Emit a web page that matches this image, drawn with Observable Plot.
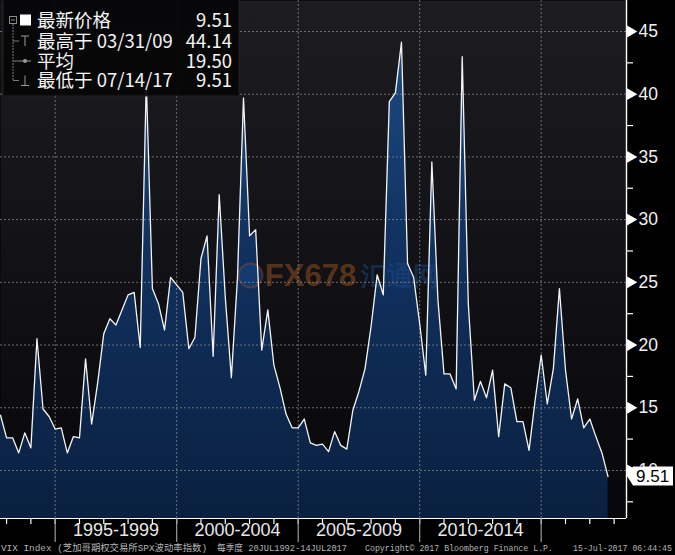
<!DOCTYPE html>
<html><head><meta charset="utf-8">
<script src="https://cdn.jsdelivr.net/npm/d3@7"></script>
<script src="https://cdn.jsdelivr.net/npm/@observablehq/plot@0.6"></script>
<style>
html,body{margin:0;padding:0;background:#000;}
#wrap{position:relative;width:675px;height:555px;overflow:hidden;background:#000;}
#wrap svg.overlay{position:absolute;left:0;top:0;pointer-events:none;}
</style></head><body><div id="wrap"></div>
<script>
// ---------- data ----------
const startYear = 1992, startQuarter = 3; // first point: end of Q3 1992, quarterly
const vixQuarterly = [
 14.4, 12.6, 12.6, 11.4, 13.0, 11.8, 20.5, 14.9, 14.3, 13.3,
 13.4, 11.4, 12.7, 12.6, 18.9, 13.7, 17.0, 20.9, 22.1, 21.6,
 22.8, 24.0, 24.2, 19.8, 41.0, 24.5, 23.3, 21.2, 25.4, 24.8,
 24.2, 19.7, 20.6, 26.9, 28.7, 19.1, 32.0, 23.8, 17.4, 25.3,
 39.7, 28.7, 29.2, 19.6, 22.8, 18.4, 16.6, 14.5, 13.4, 13.4,
 14.1, 12.2, 12.0, 12.1, 11.5, 13.1, 12.0, 11.7, 14.8, 16.3,
 18.1, 21.5, 25.6, 24.0, 39.4, 40.1, 44.14, 26.5, 25.4, 21.7,
 17.6, 34.6, 23.6, 17.7, 17.7, 16.5, 43.0, 23.3, 15.6, 17.1,
 15.8, 18.0, 12.7, 16.9, 16.6, 13.9, 13.9, 11.6, 15.6, 19.2,
 15.3, 18.1, 24.5, 18.0, 14.1, 15.7, 13.4, 14.1, 12.7, 11.4,
 9.51];
const yMajorTicks = [10, 15, 20, 25, 30, 35, 40, 45];
const yMinorTicks = [7.5, 12.5, 17.5, 22.5, 27.5, 32.5, 37.5, 42.5];
const yearTicks = d3.range(1993, 2019);
const periodStarts = [1995, 2000, 2005, 2010, 2015];
const periodLabels = ["1995-1999", "2000-2004", "2005-2009", "2010-2014"];
const legendLabels = ["最新价格", "最高于 03/31/09", "平均", "最低于 07/14/17"];
const legendValues = ["9.51", "44.14", "19.50", "9.51"];
const footerTexts = ["VIX Index (芝加哥期权交易所SPX波动率指数)", "每季度 20JUL1992-14JUL2017",
  "Copyright\u00A9 2017 Bloomberg Finance L.P.", "15-Jul-2017 06:44:45"];
const watermark = ["FX678", "汇通网"];

// ---------- scales ----------
const xMin = 1992.75, xMax = 2018.51;
const yMin = 6.17, yMax = 47.47;
const data = vixQuarterly.map((v, i) => ({t: startYear + startQuarter / 4 + i / 4, v}));
const lastValue = vixQuarterly[vixQuarterly.length - 1];
const periodMids = periodLabels.map((_, i) => (periodStarts[i] + periodStarts[i + 1]) / 2);

const defsMark = (index, scales, values, dims) => {
  const defs = document.createElementNS("http://www.w3.org/2000/svg", "defs");
  const top = dims.marginTop, bot = dims.height - dims.marginBottom;
  defs.innerHTML = `
  <linearGradient id="bgGrad" x1="0" y1="0" x2="0" y2="1">
    <stop offset="0" stop-color="#1c1c21"/><stop offset="0.55" stop-color="#111115"/><stop offset="1" stop-color="#070709"/>
  </linearGradient>
  <linearGradient id="areaGrad" gradientUnits="userSpaceOnUse" x1="0" y1="${top}" x2="0" y2="${bot}">
    <stop offset="0" stop-color="#1f5088"/><stop offset="0.45" stop-color="#113261"/><stop offset="1" stop-color="#0a2040"/>
  </linearGradient>`;
  return defs;
};

const tagMark = (index, scales) => {
  const x0 = scales.x(xMax), yv = scales.y(lastValue);
  const g = d3.create("svg:g");
  g.append("path").attr("d", `M${x0 + 1},${yv} L${x0 + 7},${yv - 9.5} H${x0 + 47} V${yv + 9.5} H${x0 + 7} Z`).attr("fill", "#fff");
  g.append("text").attr("x", x0 + 10).attr("y", yv).attr("dy", "0.36em").attr("text-anchor", "start")
    .attr("font-size", 17).attr("font-family", "Liberation Sans, Arial, sans-serif").attr("fill", "#000")
    .text(lastValue.toFixed(2));
  return g.node();
};

const dotted = {stroke: "#8c8c8c", strokeDasharray: "2,2", strokeWidth: 1, strokeOpacity: 0.75};

const chart = Plot.plot({
  width: 675, height: 555,
  marginLeft: 0, marginRight: 49, marginTop: 0, marginBottom: 37,
  style: {background: "#000", color: "#fff", fontFamily: "Liberation Sans, Arial, sans-serif", overflow: "visible"},
  x: {type: "linear", domain: [xMin, xMax], axis: null, label: null},
  y: {type: "linear", domain: [yMin, yMax], axis: null, label: null},
  marks: [
    defsMark,
    Plot.frame({fill: "url(#bgGrad)", stroke: "none"}),
    Plot.areaY(data, {x: "t", y1: () => yMin, y2: "v", fill: "url(#areaGrad)"}),
    // watermark
    Plot.dot([0], {frameAnchor: "middle", dx: -63, dy: 16, r: 12, fill: "#1c4a86", fillOpacity: 0.45, stroke: "#b4502a", strokeOpacity: 0.35, strokeWidth: 2}),
    Plot.text([watermark[0]], {frameAnchor: "middle", dx: -3, dy: 17, text: d => d, fontSize: 31, fontWeight: "bold", fill: "#7f461c", fillOpacity: 0.65}),
    Plot.text([watermark[1]], {frameAnchor: "middle", dx: 86, dy: 17, text: d => d, fontSize: 26, fontWeight: "bold", fill: "#1d4f8e", fillOpacity: 0.45}),
    // grid
    Plot.ruleY(yMajorTicks, dotted),
    Plot.ruleX(periodStarts, dotted),
    // series line
    Plot.lineY(data, {x: "t", y: "v", stroke: "#f4f4f4", strokeWidth: 1.3}),
    // frame lines
    Plot.ruleY([yMin], {stroke: "#fff", strokeWidth: 1.2}),
    Plot.ruleX([xMax], {stroke: "#fff", strokeWidth: 1.4}),
    // x axis ticks
    Plot.axisX({anchor: "bottom", ticks: yearTicks, tickSize: 6, tickFormat: () => "", label: null, stroke: "#fff", strokeWidth: 1.2}),
    Plot.axisX({anchor: "bottom", ticks: periodStarts, tickSize: 24, tickFormat: () => "", label: null, stroke: "#9a9a9a", strokeWidth: 1.2}),
    Plot.text(periodLabels, {x: (d, i) => periodMids[i], y: () => yMin, text: d => d, dy: 12, fontSize: 18, fill: "#e8e8e8"}),
    // y axis
    Plot.axisY({anchor: "right", ticks: yMinorTicks, tickSize: 6, tickFormat: () => "", label: null, stroke: "#fff", strokeWidth: 1.2}),
    Plot.dot(yMajorTicks, {x: () => xMax, y: d => d, symbol: "triangle", rotate: 90, r: 4.4, fill: "#fff", stroke: "none", dx: 4}),
    Plot.text(yMajorTicks, {x: () => xMax, y: d => d, text: d => String(d), dx: 12, textAnchor: "start", fontSize: 17.5, fill: "#f0f0f0"}),
    tagMark
  ]
});

const wrap = document.getElementById("wrap");
wrap.appendChild(chart);

// ---------- overlay: legend + footer ----------
const ov = d3.select(wrap).append("svg").attr("class", "overlay").attr("width", 675).attr("height", 555);
const lg = ov.append("g");
lg.append("rect").attr("x", 3).attr("y", -1).attr("width", 236).attr("height", 97)
  .attr("fill", "#060607").attr("fill-opacity", 0.94).attr("stroke", "#222").attr("stroke-width", 1);
const rowY = [20.5, 41, 61, 80.5];
// tree glyphs
lg.append("rect").attr("x", 9.5).attr("y", 16.5).attr("width", 7).attr("height", 7).attr("fill", "none").attr("stroke", "#8a8a8a");
lg.append("line").attr("x1", 11).attr("x2", 15).attr("y1", 20).attr("y2", 20).attr("stroke", "#8a8a8a");
lg.append("line").attr("x1", 13).attr("x2", 13).attr("y1", 24).attr("y2", 81).attr("stroke", "#7a7a7a").attr("stroke-dasharray", "2,1");
[1, 2, 3].forEach(i => lg.append("line").attr("x1", 13).attr("x2", 19).attr("y1", rowY[i]).attr("y2", rowY[i]).attr("stroke", "#7a7a7a"));
lg.append("rect").attr("x", 20).attr("y", 14.5).attr("width", 11).attr("height", 11).attr("fill", "#fff");
lg.append("path").attr("d", `M21,${rowY[1] - 5} H29 M25,${rowY[1] - 5} V${rowY[1] + 5}`).attr("stroke", "#9a9a9a").attr("fill", "none");
lg.append("path").attr("d", `M19,${rowY[2]} H31`).attr("stroke", "#9a9a9a");
lg.append("circle").attr("cx", 25).attr("cy", rowY[2]).attr("r", 2).attr("fill", "#9a9a9a");
lg.append("path").attr("d", `M21,${rowY[3] + 5} H29 M25,${rowY[3] - 5} V${rowY[3] + 5}`).attr("stroke", "#9a9a9a").attr("fill", "none");
legendLabels.forEach((t, i) => {
  lg.append("text").attr("x", 37).attr("y", rowY[i]).attr("dy", "0.36em")
    .attr("font-family", "Noto Sans CJK SC, sans-serif").attr("font-size", 18.5).attr("fill", "#f5f5f5").text(t);
  lg.append("text").attr("x", 232).attr("y", rowY[i]).attr("dy", "0.36em").attr("text-anchor", "end")
    .attr("font-family", "Noto Sans CJK SC, sans-serif").attr("font-size", 18.5).attr("fill", "#f5f5f5").text(legendValues[i]);
});
// footer
const footerX = [1, 217, 365, 573], footerW = [206, 130, 188, 99];
footerTexts.forEach((t, i) => {
  ov.append("text").attr("x", footerX[i]).attr("y", 551).attr("textLength", footerW[i]).attr("lengthAdjust", "spacingAndGlyphs")
    .attr("font-family", "Liberation Mono, Noto Sans CJK SC, monospace").attr("font-size", 9.5).attr("fill", "#b4b4b4").text(t);
});
</script></body></html>
